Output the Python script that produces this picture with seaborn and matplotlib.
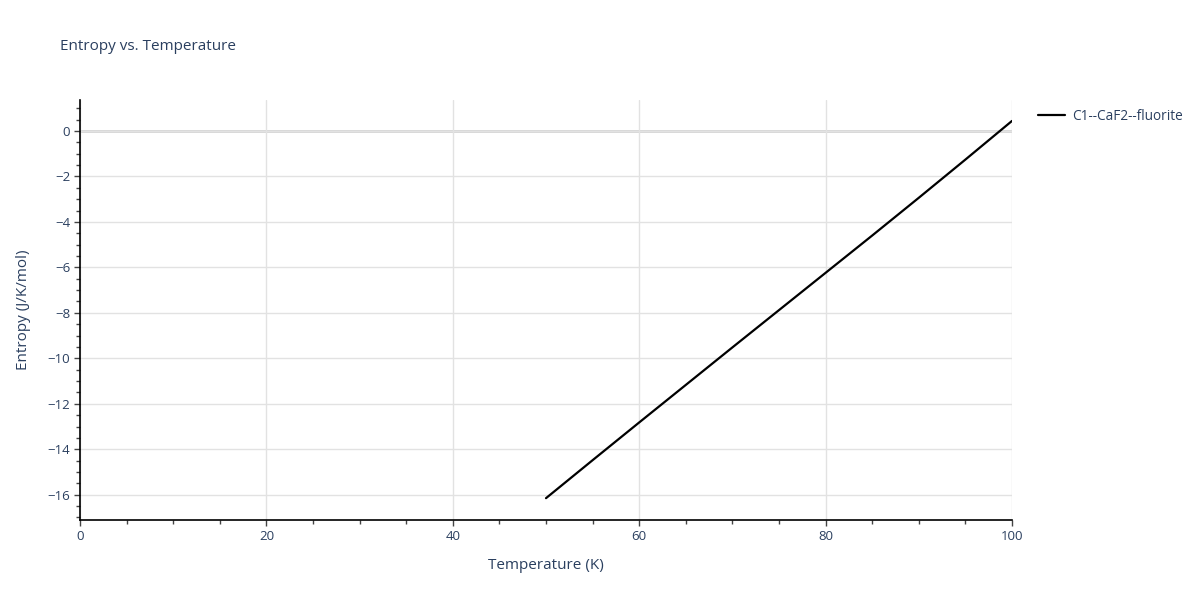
import matplotlib.pyplot as plt
import pandas as pd
import seaborn as sns
from matplotlib.ticker import MultipleLocator

# Data
temperature = [50, 55, 60, 65, 70, 75, 80, 85, 90, 95, 100]
entropy = [-16.15, -14.48, -12.82, -11.17, -9.52, -7.88, -6.24, -4.6, -2.94, -1.26, 0.44]
series_name = 'C1--CaF2--fluorite'

df = pd.DataFrame({'Temperature': temperature, 'Entropy': entropy, 'phase': series_name})

sns.set_style('white')
plt.rcParams['font.family'] = ['Open Sans', 'DejaVu Sans']
text_color = '#2a3f5f'

fig = plt.figure(figsize=(12, 6), dpi=100)
ax = fig.add_axes([80 / 1200, 80 / 600, 932 / 1200, 420 / 600])

# Grid and zero line
ax.set_axisbelow(True)
ax.grid(True, which='major', color='#e2e2e2', linewidth=1)
ax.axhline(0, color='#d4d4d4', linewidth=2, zorder=0.5)

sns.lineplot(data=df, x='Temperature', y='Entropy', hue='phase',
             palette=['black'], linewidth=1.6, ax=ax)

ax.set_xlim(0, 100)
ax.set_ylim(-17.11, 1.36)
ax.xaxis.set_major_locator(MultipleLocator(20))
ax.xaxis.set_minor_locator(MultipleLocator(5))
ax.yaxis.set_major_locator(MultipleLocator(2))
ax.yaxis.set_minor_locator(MultipleLocator(0.5))

for side in ['top', 'right']:
    ax.spines[side].set_visible(False)
for side in ['left', 'bottom']:
    ax.spines[side].set_color('black')
    ax.spines[side].set_linewidth(1.2)

ax.tick_params(which='major', direction='out', length=4, width=1, color='#444444',
               labelsize=9.5, labelcolor=text_color, left=True, bottom=True, pad=3)
ax.tick_params(which='minor', direction='out', length=3, width=1, color='#444444',
               left=True, bottom=True)
ax.yaxis.set_major_formatter(plt.FuncFormatter(lambda v, p: f'{v:.0f}'.replace('-', '\u2212')))

ax.set_xlabel('Temperature (K)', fontsize=11, color=text_color, labelpad=11)
ax.set_ylabel('Entropy (J/K/mol)', fontsize=11, color=text_color, labelpad=12)
fig.text(60 / 1200, 1 - 46 / 600, 'Entropy vs. Temperature', fontsize=11,
         color=text_color, va='center', ha='left')

leg = ax.legend(loc='upper left', bbox_to_anchor=(1.015, 1.008), frameon=False,
                fontsize=9.8, handlelength=2.0, handletextpad=0.5)
for t in leg.get_texts():
    t.set_color(text_color)

fig.savefig('out.png', dpi=100)
